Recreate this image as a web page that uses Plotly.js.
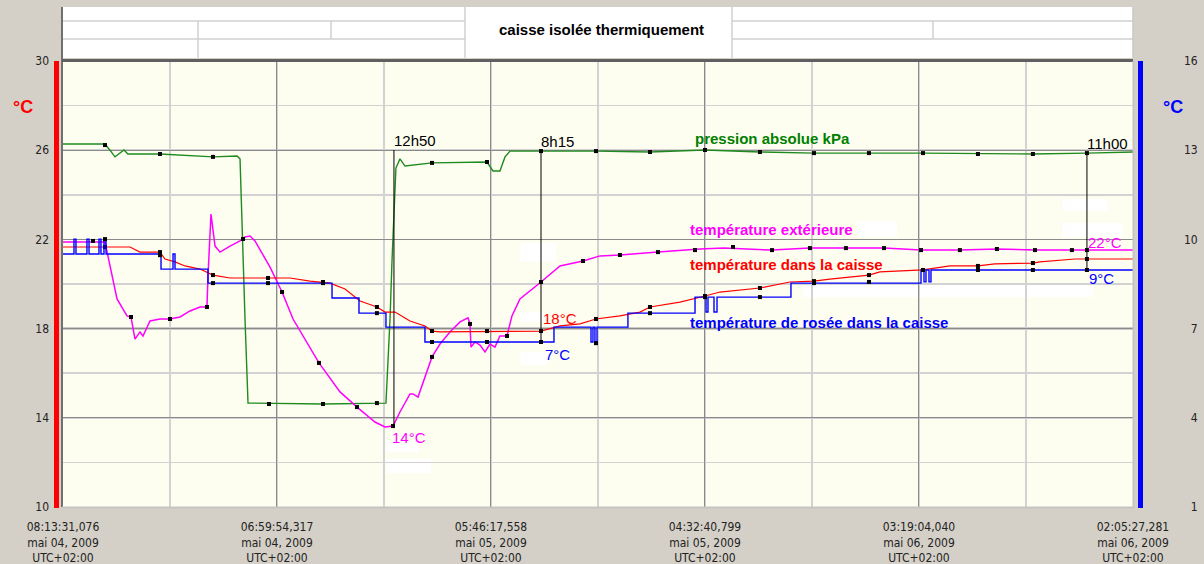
<!DOCTYPE html>
<html>
<head>
<meta charset="utf-8">
<script src="https://cdn.plot.ly/plotly-3.0.1.min.js"></script>
<style>html,body{margin:0;padding:0;background:#d4d0c8;} #chart{width:1204px;height:564px;}</style>
</head>
<body>
<div id="chart"></div>
<script>
// ---- DATA (x in hours since 08:13:31,076 mai 04, 2009) ----
const tickStepHours = 22.7731;
const tickLabels = [
  "08:13:31,076<br>mai 04, 2009<br>UTC+02:00",
  "06:59:54,317<br>mai 04, 2009<br>UTC+02:00",
  "05:46:17,558<br>mai 05, 2009<br>UTC+02:00",
  "04:32:40,799<br>mai 05, 2009<br>UTC+02:00",
  "03:19:04,040<br>mai 06, 2009<br>UTC+02:00",
  "02:05:27,281<br>mai 06, 2009<br>UTC+02:00"
];
const leftTicks = [10, 14, 18, 22, 26, 30];
const rightTicks = [1, 4, 7, 10, 13, 16];

// pression absolue kPa (drawn on left scale)
const pressX = [0,4.47,5.0,5.53,6.0,6.49,6.9,10.32,15.96,18.52,18.84,19.05,19.37,19.69,27.67,34.37,34.59,34.80,35.01,35.22,35.43,35.86,36.39,39.27,45.12,45.76,46.50,47.04,47.57,50.87,56.72,62.47,68.32,74.17,79.92,91.52,103.22,108.97,113.87];
const pressY = [26.28,26.28,26.0,25.70,25.85,26.01,25.83,25.83,25.70,25.74,25.61,22.47,18.43,14.66,14.62,14.66,16.5,18.4,21.0,23.5,25.2,25.61,25.29,25.43,25.47,25.07,25.07,25.70,25.96,25.96,25.96,25.92,26.01,25.92,25.87,25.87,25.83,25.87,25.92];
// température extérieure (°C, left)
const extX = [0,4.47,5.75,6.81,7.24,7.66,8.19,8.51,9.26,10.32,11.39,12.45,13.51,14.58,15.32,15.43,15.75,16.18,16.71,17.77,18.84,19.37,19.90,20.43,22.03,23.31,24.48,27.24,29.48,31.29,33.20,34.27,35.12,35.22,35.86,36.93,37.25,37.78,38.20,39.27,40.12,41.18,42.25,43.10,43.31,43.42,43.84,44.38,44.91,45.44,45.97,46.50,47.25,47.78,48.63,49.70,50.87,52.89,55.34,57.15,59.27,63.32,67.79,70.34,75.45,79.49,83.32,87.37,91.31,95.45,99.39,103.44,107.37,113.87];
const extY = [21.88,21.88,19.33,18.57,18.52,17.53,17.85,17.67,18.34,18.43,18.43,18.52,18.79,18.97,18.97,20.36,23.14,21.70,21.43,21.70,21.93,22.11,22.15,21.93,20.76,19.64,18.43,16.46,15.16,14.48,13.81,13.59,13.63,13.72,14.26,15.07,15.07,14.93,15.43,16.73,17.31,17.85,18.30,18.48,18.21,17.17,17.40,17.26,16.95,17.31,17.17,17.67,17.67,18.57,19.33,19.69,20.09,20.81,21.03,21.26,21.30,21.43,21.57,21.61,21.52,21.61,21.61,21.61,21.52,21.52,21.57,21.52,21.52,21.52];
// température dans la caisse (°C, left)
const boxX = [0,7.13,8.19,10.32,10.85,11.92,12.98,14.58,15.96,17.77,24.16,26.28,28.41,30.01,31.61,33.41,34.27,35.33,36.93,38.52,39.27,40.12,50.87,52.89,55.02,56.72,59.27,61.40,62.47,65.66,68.32,69.92,74.17,77.37,79.92,81.62,85.77,86.94,91.52,94.39,97.37,99.18,103.22,103.97,107.69,113.87];
const boxY = [21.66,21.66,21.43,21.43,21.12,20.99,20.81,20.67,20.40,20.27,20.27,20.13,20.04,19.78,19.24,18.97,18.74,18.74,18.34,18.12,17.89,17.85,17.89,18.12,18.21,18.43,18.57,18.74,18.97,19.19,19.46,19.64,19.82,20.09,20.13,20.22,20.40,20.54,20.63,20.81,20.81,20.90,20.94,20.99,21.12,21.12];
// température de rosée dans la caisse (°C, right), step values
const dewX = [0,1.17,1.38,2.55,2.77,3.83,4.04,4.36,4.58,10.43,11.71,11.92,15.43,28.63,31.50,34.37,38.52,52.25,56.19,56.40,56.61,56.83,60.12,67.26,68.43,68.64,69.28,69.60,77.47,91.31,91.63,91.84,92.16,92.37,113.87];
const dewY = [9.51,10.01,9.51,10.01,9.51,10.01,9.51,10.01,9.51,9.00,9.51,9.00,8.53,8.03,7.52,7.05,6.55,7.05,6.55,7.05,6.55,7.05,7.52,8.06,7.56,8.06,7.56,8.06,8.53,8.97,8.57,8.97,8.57,8.97,8.97];

// sample marks (black squares)
const pressDotX = [4.47,10.32,15.96,21.92,27.67,33.41,39.27,45.12,50.87,56.72,62.47,68.32,74.17,79.92,85.77,91.52,97.37,103.22,108.97];
const pressDotY = [26.23,25.83,25.70,14.62,14.62,14.66,25.43,25.47,25.96,25.96,25.92,26.01,25.92,25.87,25.87,25.87,25.83,25.83,25.87];
const extDotX = [3.19,7.24,11.39,15.32,19.16,23.31,27.24,31.29,35.12,39.27,43.31,47.25,50.87,55.34,59.27,63.32,67.26,71.30,75.45,79.49,83.32,87.37,91.31,95.45,99.39,103.44,107.37,108.97];
const extDotY = [21.93,18.52,18.43,18.97,22.02,19.64,16.46,14.48,13.63,16.73,18.21,17.67,20.09,21.03,21.30,21.43,21.52,21.66,21.52,21.61,21.61,21.61,21.52,21.52,21.57,21.52,21.52,21.52];
const boxDotX = [4.47,10.32,15.96,21.82,27.67,33.41,39.27,45.12,50.87,56.72,62.47,68.32,74.17,79.92,85.77,91.52,97.37,103.22,108.97];
const boxDotY = [21.66,21.43,20.40,20.27,20.09,18.97,17.89,17.89,17.89,18.43,18.97,19.46,19.82,20.13,20.40,20.63,20.81,20.94,21.12];
const dewDotX = [4.47,10.32,15.96,21.82,27.67,33.41,39.27,45.12,50.87,56.72,62.47,68.32,74.17,79.92,85.77,91.52,97.37,103.22,108.97];
const dewDotY = [10.01,9.47,8.53,8.53,8.53,7.52,6.55,6.55,6.55,6.51,7.52,8.06,8.06,8.53,8.57,8.97,8.97,8.97,8.97];

// cursors
const cursorX = [35.22, 50.87, 108.97];
const cursorTop = [26.01, 25.96, 25.87];
const cursorBottom = [13.63, 17.40, 20.63];
const cursorLabels = ["12h50", "8h15", "11h00"];

// ---- LAYOUT HELPERS (pixel -> paper) ----
const L = 63, R = 1133, T = 61, B = 507;
const P = px => (px - L) / (R - L);
const Q = py => (B - py) / (B - T);

const tickVals = tickLabels.map((_, i) => i * tickStepHours);
const xMax = tickVals[tickVals.length - 1] + 0.005;

const lineTrace = (x, y, color, width, axis, shape) => ({
  x, y, type: 'scatter', mode: 'lines', yaxis: axis,
  line: {color, width, shape: shape || 'linear'}, hoverinfo: 'skip', showlegend: false
});
const dotTrace = (x, y, axis) => ({
  x, y, type: 'scatter', mode: 'markers', yaxis: axis,
  marker: {symbol: 'square', size: 4, color: '#000'}, hoverinfo: 'skip', showlegend: false
});

const data = [
  lineTrace(pressX, pressY, '#1f8a1f', 1.4, 'y'),
  lineTrace(extX, extY, '#ff00ff', 1.5, 'y'),
  lineTrace(boxX, boxY, '#ff0000', 1.2, 'y'),
  lineTrace(dewX, dewY, '#0000ff', 1.4, 'y2', 'hv'),
  dotTrace(pressDotX, pressDotY, 'y'),
  dotTrace(extDotX, extDotY, 'y'),
  dotTrace(boxDotX, boxDotY, 'y'),
  dotTrace(dewDotX, dewDotY, 'y2')
];

const shapes = [];
const pRect = (x0, y0, x1, y1, fill, layer) => shapes.push({type: 'rect', xref: 'paper', yref: 'paper',
  x0: P(x0), x1: P(x1), y0: Q(y1), y1: Q(y0), fillcolor: fill, line: {width: 0}, layer: layer || 'above'});
const pLine = (x0, y0, x1, y1, color, w, layer) => shapes.push({type: 'line', xref: 'paper', yref: 'paper',
  x0: P(x0), x1: P(x1), y0: Q(y0), y1: Q(y1), line: {color, width: w}, layer: layer || 'above'});

// header table
pRect(62, 7, 1133, 58, '#ffffff');
pLine(63, 21, 465, 21, '#d0d0d0', 1.5); pLine(732, 21, 1133, 21, '#d0d0d0', 1.5);
pLine(63, 39, 465, 39, '#d0d0d0', 1.5); pLine(732, 39, 1133, 39, '#d0d0d0', 1.5);
pLine(198, 21, 198, 58, '#d0d0d0', 1.5);
pLine(331, 21, 331, 39, '#d0d0d0', 1.5);
pLine(465, 7, 465, 58, '#d0d0d0', 1.5);
pLine(732, 7, 732, 58, '#d0d0d0', 1.5);
pLine(933, 21, 933, 39, '#d0d0d0', 1.5);
pLine(1133, 7, 1133, 58, '#c8c8c8', 1.5);
// frame
pLine(62, 7, 62, 507, '#707070', 2);
pLine(62, 60.5, 1133, 60.5, '#606060', 3);
pLine(62, 507.5, 1134, 507.5, '#c4c4c4', 2);
pLine(1133.5, 61, 1133.5, 508, '#c4c4c4', 2);
// colour bars
pRect(54, 61, 59, 508, '#ff0000');
pRect(1138, 61, 1143, 508, '#0000ff');
// white boxes left in the plot
[[857,221,897,237],[1063,199,1107,211],[1063,223,1122,237],[803,285,1093,297],
 [520,243,556,262],[520,312,543,322],[520,352,547,365],[386,440,419,452],[386,459,431,473]]
  .forEach(b => pRect(b[0], b[1], b[2], b[3], '#ffffff', 'between'));
// thicker 18 grid line
shapes.push({type: 'line', xref: 'paper', yref: 'y', x0: 0, x1: 1, y0: 18, y1: 18,
  line: {color: '#b8b8b8', width: 2.5}, layer: 'between'});
// cursors
cursorX.forEach((cx, i) => shapes.push({type: 'line', xref: 'x', yref: 'y', x0: cx, x1: cx,
  y0: cursorBottom[i], y1: cursorTop[i], line: {color: '#000', width: 1}, layer: 'above'}));

const F = 'Liberation Sans, Arial, sans-serif';
const ann = (text, px, py, color, size, bold, anchor) => ({
  text: bold ? '<b>' + text + '</b>' : text, xref: 'paper', yref: 'paper',
  x: P(px), y: Q(py), xanchor: anchor || 'left', yanchor: 'middle', showarrow: false,
  font: {family: F, size, color}, borderpad: 0
});
const annotations = [
  ann('caisse isolée thermiquement', 601, 30, '#000', 15, true, 'center'),
  ann('°C', 23, 107, '#ff0000', 18, true, 'center'),
  ann('°C', 1173, 107, '#0000ff', 18, true, 'center'),
  ann('pression absolue kPa', 694, 138, '#008000', 15, true),
  ann('température extérieure', 689, 229, '#ff00ff', 15, true),
  ann('température dans la caisse', 689, 264, '#ff0000', 15, true),
  ann('température de rosée dans la caisse', 689, 323, '#0000ff', 15, true),
  ann('18°C', 542, 318, '#ff0000', 15, false),
  ann('7°C', 544, 354, '#0000ff', 15, false),
  ann('14°C', 391, 437, '#ff00ff', 15, false),
  ann('22°C', 1087, 243, '#ff00ff', 15, false),
  ann('9°C', 1088, 278, '#0000ff', 15, false)
];
cursorX.forEach((cx, i) => annotations.push({text: cursorLabels[i], xref: 'x', yref: 'y',
  x: cx, y: cursorTop[i], xanchor: 'left', yanchor: 'bottom', xshift: -1, yshift: 0, showarrow: false,
  font: {family: F, size: 15, color: '#000'}, borderpad: 0}));

const tickFont = {family: 'Liberation Sans Narrow, Arial Narrow, DejaVu Sans Condensed, sans-serif', size: 12, color: '#222'};

const layout = {
  width: 1204, height: 564,
  margin: {l: L, r: 1204 - R, t: T, b: 564 - B, pad: 0},
  paper_bgcolor: '#d4d0c8', plot_bgcolor: '#fefef0',
  font: {family: F},
  showlegend: false,
  xaxis: {
    range: [0, xMax], tickmode: 'array', tickvals: tickVals, ticktext: tickLabels,
    showgrid: true, gridcolor: '#8a8a8a', gridwidth: 1, zeroline: false, showline: false,
    ticks: '', ticklabelstandoff: 11, tickfont: tickFont,
    minor: {tickmode: 'linear', tick0: 0, dtick: tickStepHours / 2, showgrid: true, gridcolor: '#d2d2d2', gridwidth: 1.5, ticks: ''}
  },
  yaxis: {
    range: [10, 30], tickmode: 'array', tickvals: leftTicks, ticktext: leftTicks.map(String),
    showgrid: true, gridcolor: '#8a8a8a', gridwidth: 1, zeroline: false, showline: false,
    ticks: '', ticklabelstandoff: 13, tickfont: tickFont,
    minor: {tickmode: 'linear', tick0: 10, dtick: 2, showgrid: true, gridcolor: '#d2d2d2', gridwidth: 1.5, ticks: ''}
  },
  yaxis2: {
    range: [1, 16], overlaying: 'y', side: 'right', tickmode: 'array', tickvals: rightTicks,
    ticktext: rightTicks.map(v => v < 10 ? '\u2007' + v : String(v)),
    showgrid: false, zeroline: false, showline: false, ticks: '', ticklabelstandoff: 50, tickfont: tickFont
  },
  shapes, annotations
};

Plotly.newPlot('chart', data, layout, {staticPlot: true, displayModeBar: false});
</script>
</body>
</html>
